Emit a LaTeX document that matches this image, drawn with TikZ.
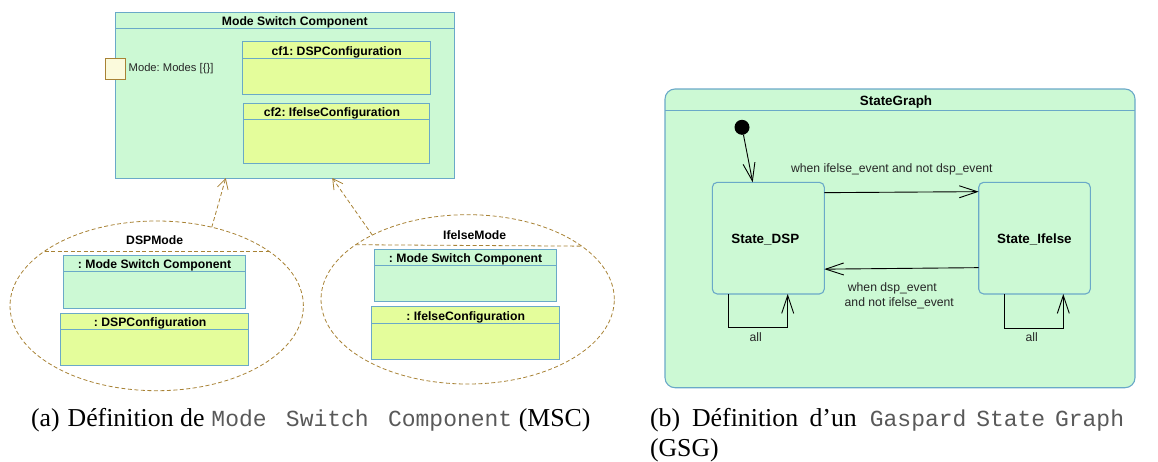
\documentclass[tikz,border=0pt]{standalone}
\usepackage{fontspec}
\setmainfont{Liberation Serif}
\setsansfont{Liberation Sans}
\setmonofont{Liberation Mono}
\usetikzlibrary{positioning}
\usetikzlibrary{arrows.meta}
\usetikzlibrary{shapes.geometric}
\definecolor{compgreen}{HTML}{CCF9D4}
\definecolor{confyellow}{HTML}{E4FD9B}
\definecolor{edgeblue}{HTML}{6AA9C8}
\definecolor{modebrown}{HTML}{A88235}
\definecolor{portcream}{HTML}{FBFADC}
\tikzset{part/.style={rectangle,draw=edgeblue,line width=0.9pt,inner sep=0pt,outer sep=0pt}}
\tikzset{comp/.style={part,fill=compgreen}}
\tikzset{conf/.style={part,fill=confyellow}}
\tikzset{head/.style={font=\sffamily\bfseries\fontsize{12.2}{14}\selectfont,inner sep=0pt,outer sep=0pt}}
\tikzset{headbig/.style={head,font=\sffamily\bfseries\fontsize{13.4}{15}\selectfont}}
\tikzset{parthead/.style={head,text height=11pt,text depth=0pt}}
\tikzset{headline/.style={draw=edgeblue,line width=0.9pt}}
\tikzset{label/.style={font=\sffamily\fontsize{12.2}{15}\selectfont,inner sep=0pt,outer sep=0pt,text=black!85}}
\tikzset{state/.style={comp,rounded corners=5pt,minimum width=112pt,minimum height=111.7pt,line width=1.1pt}}
\tikzset{trans/.style={draw=black,line width=0.9pt,-{Straight Barb[length=18pt,width=12pt]}}}
\tikzset{dep/.style={draw=modebrown,line width=0.8pt,dash pattern=on 4pt off 2.5pt,-{Straight Barb[length=10pt,width=11pt]}}}
\tikzset{mode/.style={ellipse,draw=modebrown,line width=0.8pt,dash pattern=on 4pt off 2.5pt,inner sep=0pt,outer sep=0pt}}
\tikzset{chord/.style={draw=modebrown,line width=0.8pt,dash pattern=on 4pt off 2.5pt}}
\tikzset{capt/.style={font=\fontsize{25.8}{30}\selectfont,inner sep=0pt,outer sep=0pt,align=left,anchor=north west}}
\newcommand{\capttt}[1]{{\color{black!65}\ttfamily\fontsize{23}{30}\selectfont #1}}

\begin{document}
\frenchspacing
\begin{tikzpicture}[x=1pt,y=-1pt]
  \useasboundingbox (0,0) rectangle (1158,461);
  % component with its two configurations
  \node [comp,minimum width=338.5pt,minimum height=165.5pt] (msc) at (284.75,95.25) {};
  \node [parthead,minimum height=15.5pt,below=0pt of msc.north,xshift=10pt] (mscT) {Mode Switch Component};
  \draw [headline] (mscT.south -| msc.west) -- (mscT.south -| msc.east);
  \node [part,fill=portcream,draw=modebrown,minimum width=20.7pt,minimum height=20.6pt] (port) at (115.35,69) {};
  \node [label,right=3pt of port,font=\sffamily\fontsize{11.2}{15}\selectfont] (portL) {Mode: Modes [\{\}]};
  \node [conf,minimum width=188pt,minimum height=53pt] (cfA) at (336.7,67.8) {};
  \node [parthead,minimum height=16.7pt,below=0pt of cfA.north] (cfAT) {cf1: DSPConfiguration};
  \draw [headline] (cfAT.south -| cfA.west) -- (cfAT.south -| cfA.east);
  \node [conf,minimum width=185.6pt,minimum height=60.4pt] (cfB) at (336.5,133.5) {};
  \node [parthead,minimum height=16pt,below=0pt of cfB.north,xshift=-4.5pt] (cfBT) {cf2: IfelseConfiguration};
  \draw [headline] (cfBT.south -| cfB.west) -- (cfBT.south -| cfB.east);
  % DSP mode
  \node [mode,minimum width=293.4pt,minimum height=169.7pt] (modeA) at (156.7,305.85) {};
  \node [head] (modeAT) at (154.7,240) {DSPMode};
  \draw [chord] (modeA.154) -- (modeA.26);
  \node [comp,minimum width=182.4pt,minimum height=52.7pt] (mscA) at (154.5,281.65) {};
  \node [parthead,minimum height=16pt,below=0pt of mscA.north] (mscAT) {: Mode Switch Component};
  \draw [headline] (mscAT.south -| mscA.west) -- (mscAT.south -| mscA.east);
  \node [conf,minimum width=188pt,minimum height=52pt] (dspA) at (154.7,339.3) {};
  \node [parthead,minimum height=16pt,below=0pt of dspA.north,xshift=-4.5pt] (dspAT) {: DSPConfiguration};
  \draw [headline] (dspAT.south -| dspA.west) -- (dspAT.south -| dspA.east);
  % Ifelse mode
  \node [mode,minimum width=293.3pt,minimum height=169.3pt] (modeB) at (467.65,299.35) {};
  \node [head] (modeBT) at (474.7,234.7) {IfelseMode};
  \draw [chord] (modeB.154.4) -- (modeB.25.6);
  \node [comp,minimum width=182.4pt,minimum height=52.7pt] (mscB) at (465.5,275.35) {};
  \node [parthead,minimum height=16.3pt,below=0pt of mscB.north] (mscBT) {: Mode Switch Component};
  \draw [headline] (mscBT.south -| mscB.west) -- (mscBT.south -| mscB.east);
  \node [conf,minimum width=188pt,minimum height=52.6pt] (ifB) at (465.7,333) {};
  \node [parthead,minimum height=16.6pt,below=0pt of ifB.north] (ifBT) {: IfelseConfiguration};
  \draw [headline] (ifBT.south -| ifB.west) -- (ifBT.south -| ifB.east);
  \draw [dep] (modeA.55) -- ([xshift=-59pt]msc.south);
  \draw [dep] (modeB.146.8) -- ([xshift=47.5pt]msc.south);
  % state graph
  \node [comp,rounded corners=10pt,minimum width=470pt,minimum height=298.7pt,line width=1.1pt] (graph) at (900,238.35) {};
  \node [headbig,text height=12pt,text depth=0pt,minimum height=21.7pt,below=0pt of graph.north,xshift=-4pt] (graphT) {StateGraph};
  \draw [headline] (graphT.south -| graph.west) -- (graphT.south -| graph.east);
  \node [circle,fill=black,inner sep=0pt,outer sep=0pt,minimum size=15pt] (init) at (742,127.3) {};
  \node [state] (stateA) at (768.3,238.15) {};
  \node [headbig] (stateAT) at (765.3,239.5) {State\_DSP};
  \node [state,minimum width=111.6pt] (stateB) at (1034.5,238.15) {};
  \node [headbig] (stateBT) at (1034.4,239.5) {State\_Ifelse};
  \draw [trans] (init) -- ([xshift=-15.6pt]stateA.north);
  \draw [trans] ([yshift=45.5pt]stateA.east) -- ([yshift=46.5pt]stateB.west);
  \node [label] (evtA) at (891.8,169) {when ifelse\_event and not dsp\_event};
  \draw [trans] ([yshift=-29.5pt]stateB.west) -- ([yshift=-31pt]stateA.east);
  \node [label,align=center] (evtB) at (899.3,296) {when dsp\_event\kern14pt\\and not ifelse\_event};
  \draw [trans] ([xshift=-40pt]stateA.south) -- ++(0,33.7) -| ([xshift=19.4pt]stateA.south);
  \node [label] (allA) at (755.7,337) {all};
  \draw [trans] ([xshift=-30.5pt]stateB.south) -- ++(0,34) -| ([xshift=28.8pt]stateB.south);
  \node [label] (allB) at (1031.7,337) {all};
  % captions
  \node [capt] (captA) at (31,408.5) {(a)\hspace{8pt}Définition de\hspace{7pt}\capttt{Mode\hspace{5.5pt} Switch\hspace{5.5pt} Component} (MSC)};
  \node [capt] (captB) at (650,408.5) {(b)\hspace{12pt}Définition\hspace{5pt} d’un\hspace{13pt}\capttt{Gaspard\hspace{-4pt} State\hspace{-4pt} Graph}\\(GSG)};
\end{tikzpicture}
\end{document}
